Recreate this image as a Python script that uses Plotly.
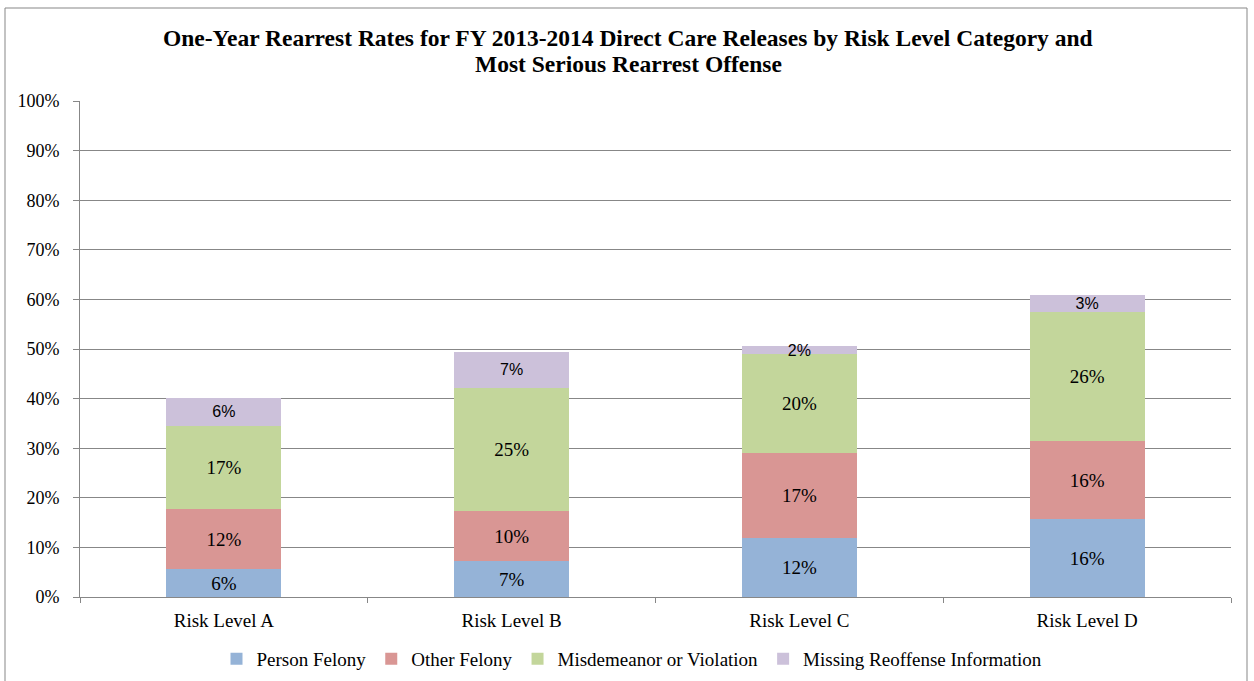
import plotly.graph_objects as go

categories = ["Risk Level A", "Risk Level B", "Risk Level C", "Risk Level D"]
series_names = ["Person Felony", "Other Felony", "Misdemeanor or Violation", "Missing Reoffense Information"]
person_felony = [5.6, 7.2, 11.8, 15.7]
other_felony = [12.1, 10.1, 17.3, 15.7]
misdemeanor = [16.8, 24.9, 19.8, 26.1]
missing_info = [5.6, 7.2, 1.7, 3.4]
y_ticks = [0, 10, 20, 30, 40, 50, 60, 70, 80, 90, 100]
y_tick_labels = [f"{t}%" for t in y_ticks]
title_lines = ["One-Year Rearrest Rates for FY 2013-2014 Direct Care Releases by Risk Level Category and",
               "Most Serious Rearrest Offense"]

colors = ["#95B3D7", "#D99694", "#C3D69B", "#CCC1DA"]
serif = "Liberation Serif, Times New Roman, serif"
sans = "Liberation Sans, Arial, sans-serif"
grid = "#878787"

W, H = 1254, 681
L, R, T, B = 80, 23, 101, 84
pw, ph = W - L - R, H - T - B


def px_x(x):
    return (x - L) / pw


def px_y(y):
    return (H - B - y) / ph


fig = go.Figure()
all_vals = [person_felony, other_felony, misdemeanor, missing_info]
for i, (name, vals) in enumerate(zip(series_names, all_vals)):
    fig.add_trace(go.Bar(
        x=categories, y=vals, name=name,
        marker=dict(color=colors[i], line=dict(width=0)),
        texttemplate="%{y:.0f}%",
        textposition="inside", insidetextanchor="middle",
        textangle=0,
        textfont=dict(family=sans if i == 3 else serif, size=16 if i == 3 else 19, color="black"),
        constraintext="none",
        cliponaxis=False,
        hoverinfo="skip",
    ))

annotations = []
for k, (line, ypx) in enumerate(zip(title_lines, [38, 64])):
    annotations.append(dict(
        text=f"<b>{line}</b>", xref="paper", yref="paper",
        x=px_x(628), y=px_y(ypx), xanchor="center", yanchor="middle",
        showarrow=False, font=dict(family=serif, size=23.5, color="black"),
    ))

fig.update_layout(
    width=W, height=H, autosize=False,
    barmode="stack", bargap=0.6,
    plot_bgcolor="white", paper_bgcolor="white",
    margin=dict(l=L, r=R, t=T, b=B, autoexpand=False),
    font=dict(family=serif, size=19, color="black"),
    annotations=annotations,
    legend=dict(
        orientation="h", x=632 / W, xanchor="center", xref="container",
        y=1 - 659 / H, yanchor="middle", yref="container",
        font=dict(family=serif, size=19, color="black"),
        itemwidth=30, traceorder="normal",
    ),
    xaxis=dict(
        automargin=False,
        showline=True, linecolor=grid, linewidth=1,
        ticks="outside", tickson="boundaries", ticklen=5, tickcolor=grid,
        tickfont=dict(family=serif, size=19, color="black"),
        ticklabelstandoff=6,
        showgrid=False,
    ),
    yaxis=dict(
        automargin=False,
        range=[0, 100], tickvals=y_ticks, ticktext=y_tick_labels,
        showline=True, linecolor=grid, linewidth=1,
        ticks="outside", ticklen=6, tickcolor=grid,
        showgrid=True, gridcolor=grid, gridwidth=1,
        tickfont=dict(family=serif, size=18, color="black"),
        ticklabelstandoff=10,
        zeroline=False,
    ),
    shapes=[dict(
        type="rect", xref="paper", yref="paper",
        x0=px_x(5), x1=px_x(1247), y0=px_y(H + 10), y1=px_y(8),
        line=dict(color=grid, width=1), fillcolor="rgba(0,0,0,0)",
        layer="below",
    )],
)

fig.write_html("out.html", config={"displayModeBar": False},
               post_script="document.body.style.margin='0px';document.body.style.overflow='hidden';")
